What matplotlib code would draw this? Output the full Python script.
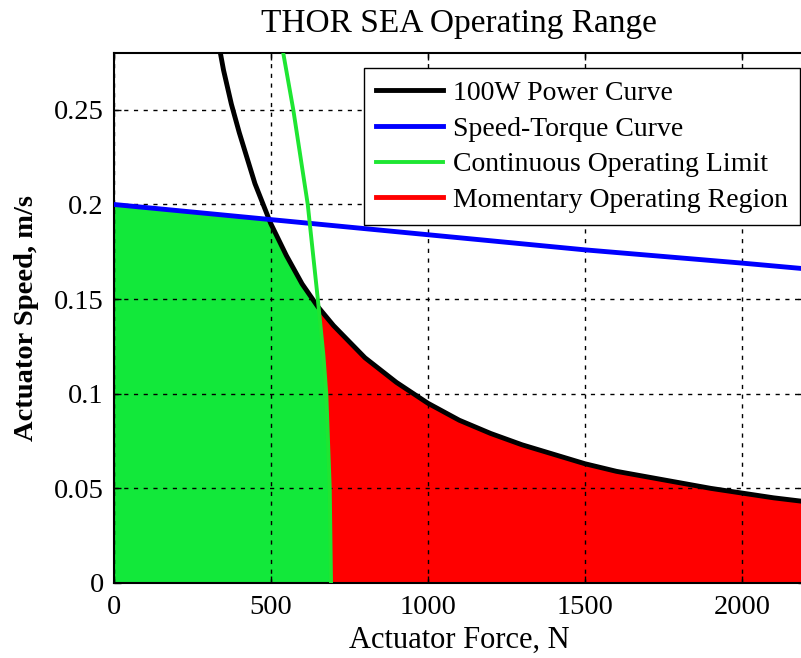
import matplotlib.pyplot as plt
import numpy as np

# 100W power curve (force N, speed m/s)
power_F = [340, 350, 375, 400, 450, 500, 550, 600, 650, 700, 800, 900, 1000,
           1100, 1200, 1300, 1400, 1500, 1600, 1700, 1800, 1900, 2000, 2100, 2200]
power_v = [0.280, 0.271, 0.253, 0.238, 0.211, 0.190, 0.173, 0.158, 0.146, 0.136,
           0.119, 0.106, 0.095, 0.086, 0.079, 0.073, 0.068, 0.063, 0.059, 0.056,
           0.053, 0.050, 0.0475, 0.045, 0.043]

# speed-torque curve
st_F = [0, 500, 1000, 1500, 2000, 2200]
st_v = [0.200, 0.192, 0.184, 0.176, 0.169, 0.166]

# continuous operating limit
cont_F = [540, 572, 618, 650, 668, 677, 688, 692]
cont_v = [0.280, 0.250, 0.200, 0.150, 0.120, 0.100, 0.050, 0.0]

plt.rcParams['font.family'] = ['Liberation Serif', 'DejaVu Serif']

fig = plt.figure(figsize=(8.01, 6.58), dpi=100)
ax = fig.add_axes([113.5 / 801, 75 / 658, 691.5 / 801, 530 / 658])

# fills built from the series above
F = np.linspace(0, 2200, 2000)
pw = np.interp(F, power_F, power_v, left=10)
st = np.interp(F, st_F, st_v)
lim = np.interp(F, cont_F, cont_v, left=10, right=0)
green_top = np.minimum(np.minimum(st, pw), lim)
ax.fill_between(F, 0, green_top, color='#12e83a', lw=0, zorder=1)
ax.fill_between(F, np.minimum(lim, pw), pw, where=F >= 600, color='#ff0000', lw=0, zorder=1)

ax.plot(power_F, power_v, color='black', lw=3.5, label='100W Power Curve', zorder=3)
ax.plot(st_F, st_v, color='#0000ff', lw=3.5, label='Speed-Torque Curve', zorder=3)
ax.plot(cont_F, cont_v, color='#1ee632', lw=2.8, label='Continuous Operating Limit', zorder=3)
ax.plot([], [], color='#ff0000', lw=3.5, label='Momentary Operating Region')

ax.set_xlim(0, 2200)
ax.set_ylim(0, 0.28)
ax.set_xticks([0, 500, 1000, 1500, 2000])
ax.set_yticks([0, 0.05, 0.1, 0.15, 0.2, 0.25])
ax.set_yticklabels(['0', '0.05', '0.1', '0.15', '0.2', '0.25'])
ax.tick_params(direction='in', top=True, right=True, labelsize=20.5, length=5, width=1)
ax.tick_params(axis='x', pad=9)
ax.tick_params(axis='y', pad=7)
ax.grid(True, color='black', linestyle=(0, (3, 4)), linewidth=1)
ax.set_axisbelow(False)
for s in ax.spines.values():
    s.set_linewidth(1.5)

ax.set_title('THOR SEA Operating Range', fontsize=24, pad=15)
ax.set_xlabel('Actuator Force, N', fontsize=22, labelpad=4)
ax.set_ylabel('Actuator Speed, m/s', fontsize=20.5, fontweight='bold', labelpad=11)

leg = ax.legend(loc='upper right', bbox_to_anchor=(0.993, 0.972), fontsize=20,
                fancybox=False, framealpha=1, edgecolor='black', handlelength=2.4,
                borderpad=0.45, labelspacing=0.37, handletextpad=0.35, borderaxespad=0)
leg.get_frame().set_linewidth(1)
leg.set_zorder(5)

fig.savefig('out.png', dpi=100)
